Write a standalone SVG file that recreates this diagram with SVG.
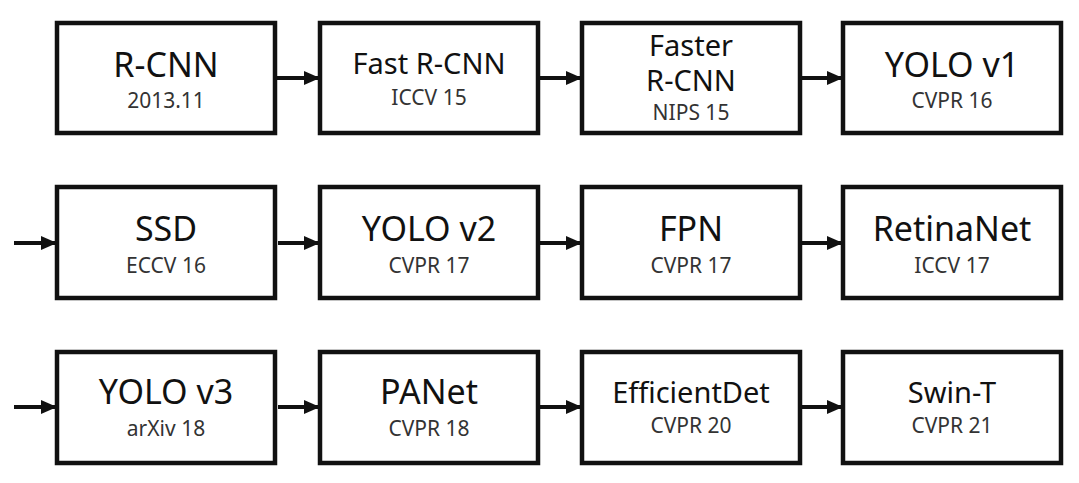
<svg xmlns="http://www.w3.org/2000/svg" width="1079" height="483" viewBox="0 0 1079 483">
<defs>
<style>
.box{fill:#fff;stroke:#111;stroke-width:4.5}
.t{font-family:"Noto Sans","DejaVu Sans",sans-serif;font-size:34px;fill:#111;text-anchor:middle}
.m{font-size:29px}
.s{font-family:"Noto Sans","DejaVu Sans",sans-serif;font-size:21px;fill:#333;text-anchor:middle}
.c{stroke:#111;stroke-width:4;fill:none}
</style>
<marker id="ah" markerUnits="userSpaceOnUse" markerWidth="17" markerHeight="15" refX="16" refY="7.5" orient="auto">
<path d="M0,0.5 L16,7.5 L0,14.5 Z" fill="#111"/>
</marker>
</defs>
<rect width="1079" height="483" fill="#fff"/>
<g id="connectors">
<line class="c" x1="277" y1="78" x2="320" y2="78" marker-end="url(#ah)"/>
<line class="c" x1="540" y1="78" x2="582" y2="78" marker-end="url(#ah)"/>
<line class="c" x1="802" y1="78" x2="843" y2="78" marker-end="url(#ah)"/>
<line class="c" x1="14" y1="243" x2="57" y2="243" marker-end="url(#ah)"/>
<line class="c" x1="278" y1="243" x2="320" y2="243" marker-end="url(#ah)"/>
<line class="c" x1="540" y1="243" x2="582" y2="243" marker-end="url(#ah)"/>
<line class="c" x1="802" y1="243" x2="843" y2="243" marker-end="url(#ah)"/>
<line class="c" x1="14" y1="407" x2="57" y2="407" marker-end="url(#ah)"/>
<line class="c" x1="278" y1="407" x2="320" y2="407" marker-end="url(#ah)"/>
<line class="c" x1="540" y1="407" x2="582" y2="407" marker-end="url(#ah)"/>
<line class="c" x1="802" y1="407" x2="843" y2="407" marker-end="url(#ah)"/>
</g>
<g id="rcnn"><rect class="box" x="57" y="23" width="218" height="110"/><text class="t" x="166" y="77">R-CNN</text><text class="s" x="166" y="108">2013.11</text></g>
<g id="fastrcnn"><rect class="box" x="320" y="23" width="218" height="110"/><text class="t m" x="429" y="74">Fast R-CNN</text><text class="s" x="429" y="105">ICCV 15</text></g>
<g id="fasterrcnn"><rect class="box" x="582" y="23" width="218" height="110"/><text class="t m" x="691" y="56">Faster<tspan x="691" dy="35">R-CNN</tspan></text><text class="s" x="691" y="120">NIPS 15</text></g>
<g id="yolov1"><rect class="box" x="843" y="23" width="218" height="110"/><text class="t" x="952" y="77">YOLO v1</text><text class="s" x="952" y="108">CVPR 16</text></g>
<g id="ssd"><rect class="box" x="57" y="187" width="218" height="111"/><text class="t" x="166" y="241">SSD</text><text class="s" x="166" y="273">ECCV 16</text></g>
<g id="yolov2"><rect class="box" x="320" y="187" width="218" height="111"/><text class="t" x="429" y="241">YOLO v2</text><text class="s" x="429" y="273">CVPR 17</text></g>
<g id="fpn"><rect class="box" x="582" y="187" width="218" height="111"/><text class="t" x="691" y="241">FPN</text><text class="s" x="691" y="273">CVPR 17</text></g>
<g id="retinanet"><rect class="box" x="843" y="187" width="218" height="111"/><text class="t" x="952" y="241">RetinaNet</text><text class="s" x="952" y="273">ICCV 17</text></g>
<g id="yolov3"><rect class="box" x="57" y="352" width="218" height="111"/><text class="t" x="166" y="404">YOLO v3</text><text class="s" x="166" y="436">arXiv 18</text></g>
<g id="panet"><rect class="box" x="320" y="352" width="218" height="111"/><text class="t" x="429" y="404">PANet</text><text class="s" x="429" y="436">CVPR 18</text></g>
<g id="efficientdet"><rect class="box" x="582" y="352" width="218" height="111"/><text class="t m" x="691" y="403">EfficientDet</text><text class="s" x="691" y="433">CVPR 20</text></g>
<g id="swint"><rect class="box" x="843" y="352" width="218" height="111"/><text class="t m" x="952" y="403">Swin-T</text><text class="s" x="952" y="433">CVPR 21</text></g>
</svg>
